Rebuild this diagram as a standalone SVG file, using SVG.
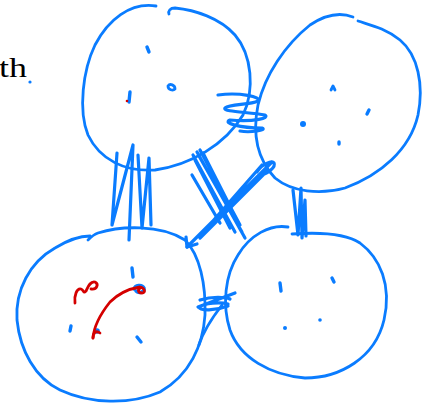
<svg xmlns="http://www.w3.org/2000/svg" width="430" height="408" viewBox="0 0 430 408">
<style>
.b{fill:none;stroke:#0a7cff;stroke-width:2.8;stroke-linecap:round;stroke-linejoin:round}
.k{fill:none;stroke:#0a7cff;stroke-width:3.4;stroke-linecap:round;stroke-linejoin:round}
.c{fill:none;stroke:#0a7cff;stroke-width:3.2;stroke-linecap:round;stroke-linejoin:round}
.d{fill:#0a7cff}
.r{fill:none;stroke:#d40000;stroke-width:2.8;stroke-linecap:round;stroke-linejoin:round}
.t{font-family:"Liberation Serif","DejaVu Serif",serif;font-size:27px;fill:#000}
</style>
<rect width="430" height="408" fill="#fff"/>
<text class="t" x="-1" y="77" textLength="28" lengthAdjust="spacingAndGlyphs">th</text>
<circle class="d" cx="30" cy="82" r="1.6"/>

<g id="node-top-left">
<path class="b" d="M156,6 C130,2 108,20 95,45 C83,70 78,110 88,135 C100,160 125,172 155,170 C190,165 225,145 243,115 C255,90 252,55 235,35 C220,18 195,10 175,8 C170,8 168,11 169,14"/>
<path class="k" d="M147,47 L149,52"/>
<path class="b" d="M168,86 C170,83 175,85 175,89 C173,91 168,90 168,86Z"/>
<path class="k" d="M130,92 L129,102"/>
<circle cx="127" cy="101" r="1.3" fill="#d40000"/>
</g>

<g id="node-top-right">
<path class="b" d="M353,17 C340,12 325,15 310,25 C285,45 265,75 258,105 C252,135 258,160 275,178 C292,192 320,195 345,188 C380,175 410,150 418,115 C424,85 418,55 400,40 C385,28 370,25 358,21"/>
<path class="b" d="M331,90 L333,86 L335,90"/>
<path class="k" d="M367,114 L369,110"/>
<circle class="d" cx="303" cy="124" r="3"/>
<path class="k" d="M339,142 L339,144"/>
</g>

<g id="node-bottom-left">
<path class="b" d="M88,240 C92,236 95,234 98,233 C120,226 160,224 185,240 C200,255 206,285 205,315 C203,345 190,375 160,392 C130,405 90,404 60,390 C35,378 20,350 17,320 C15,290 30,262 55,248 C68,240 80,236 90,236"/>
<path class="k" d="M132,268 L133,277"/>
<path class="k" d="M71,326 L70,331"/>
<path class="k" d="M137,337 L141,342"/>
<path class="k" d="M134,289 C135,285 142,284 144,288 C145,292 139,294 136,291"/>
<circle class="d" cx="97" cy="331" r="2.8"/>
<path class="r" d="M75,303 C74,295 77,288 81,289 C84,290 83,294 86,291 C88,287 90,281 95,282 C99,284 97,290 91,289"/>
<path class="r" d="M93,338 C94,325 102,312 110,302 C118,294 128,289 140,287 C145,288 146,293 142,293 C138,293 137,289 141,288"/>
<path class="r" d="M93,338 C93,333 96,330 100,333"/>
</g>

<g id="node-bottom-right">
<path class="b" d="M288,227 C270,224 250,235 238,255 C225,275 222,305 230,330 C240,358 270,375 305,378 C340,378 375,358 384,320 C392,285 380,258 360,243 C345,233 320,232 292,234"/>
<path class="k" d="M280,283 L281,291"/>
<path class="k" d="M332,278 L334,282"/>
<circle class="d" cx="285" cy="328" r="2"/>
<circle class="d" cx="320" cy="320" r="1.8"/>
</g>

<g id="connectors">
<path class="c" d="M117,153 L112,225 L133,145 L129,240 M138,155 L142,228 L149,158 L151,225"/>
<path class="c" d="M218,95 C240,92 262,97 258,101 C250,105 230,104 225,108 C222,112 250,112 265,115 C270,118 255,122 230,120 C222,123 240,128 262,128 C268,130 250,133 240,131"/>
<path class="c" d="M193,155 L235,232 M197,152 L245,238 M200,150 L240,225 M203,153 L236,218 M192,175 L220,223 M195,160 L230,228 M199,156 L242,232"/>
<path class="c" d="M272,162 L187,247 M268,170 L200,238 M262,165 L212,222 M257,172 C262,164 272,160 274,163 C276,167 268,174 258,176"/>
<path class="c" d="M186,237 L187,247 L197,244"/>
<path class="c" d="M293,190 L298,235 L301,188 L302,238 L305,200 L306,236"/>
<path class="c" d="M198,307 L235,293 M228,304 C220,302 205,303 199,307 C200,311 215,311 228,306 M200,300 C212,296 226,297 230,299"/>
<path class="b" d="M222,305 C212,318 203,332 199,345"/>
</g>
</svg>
